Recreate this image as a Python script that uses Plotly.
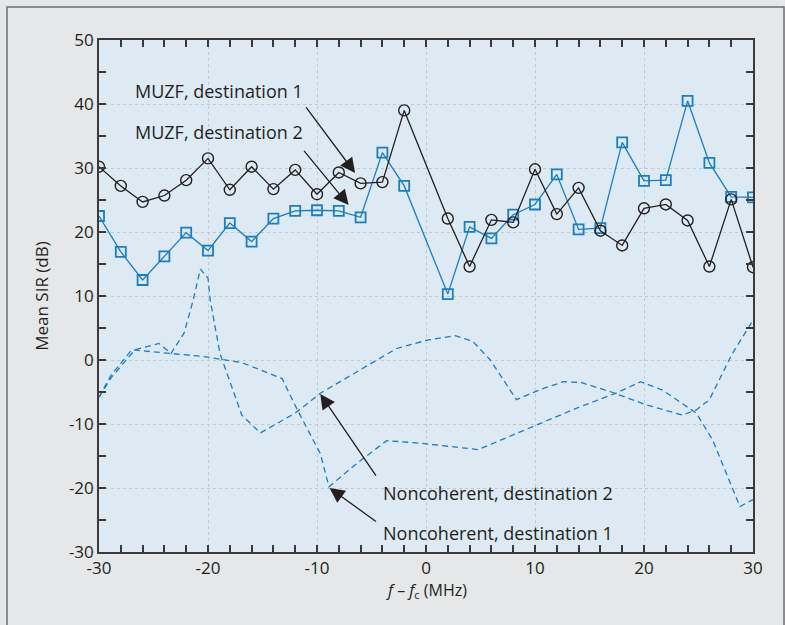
import plotly.graph_objects as go

# MUZF markers (x in MHz offset)
muzf_x = [-30, -28, -26, -24, -22, -20, -18, -16, -14, -12, -10, -8, -6, -4, -2,
          2, 4, 6, 8, 10, 12, 14, 16, 18, 20, 22, 24, 26, 28, 30]
muzf_dest1 = [30.2, 27.2, 24.7, 25.7, 28.1, 31.5, 26.6, 30.2, 26.7, 29.7, 25.9, 29.3, 27.6, 27.8, 39.0,
              22.1, 14.6, 21.9, 21.5, 29.8, 22.8, 26.9, 20.2, 17.9, 23.7, 24.3, 21.8, 14.6, 25.1, 14.5]
muzf_dest2 = [22.5, 16.9, 12.5, 16.2, 19.9, 17.1, 21.4, 18.5, 22.1, 23.3, 23.4, 23.3, 22.3, 32.4, 27.2,
              10.3, 20.8, 19.0, 22.7, 24.3, 29.0, 20.4, 20.6, 34.0, 28.0, 28.1, 40.5, 30.8, 25.5, 25.4]

# Noncoherent curves
nc1_x = [-30, -28.9, -27, -24, -20.2, -18.8, -16.9, -13.2, -11.8, -9.7, -8.9, -6.3, -3.6, -0.5, 4.8,
         9.8, 14, 17.4, 19.7, 21.7, 24.8, 26.3, 28.8, 30]
nc1_y = [-5.8, -2.4, 1.6, 1.1, 0.5, 0.1, -0.4, -2.9, -7.8, -14.6, -19.8, -16.1, -12.6, -13.0, -14.0,
         -10.4, -7.4, -5.2, -3.4, -4.7, -8.3, -12.5, -22.9, -21.8]

nc2_x = [-30, -28.9, -26.7, -24.5, -23.4, -22.2, -21.4, -20.7, -20.0, -19.8, -18.9, -16.9, -15.2, -12.0,
         -9.7, -6.3, -2.7, 0.1, 2.7, 4.3, 5.9, 8.3, 10.5, 12.6, 14.2, 17.0, 20.2, 23.5, 24.8, 26.0, 28.1, 30]
nc2_y = [-5.8, -2.8, 1.6, 2.6, 1.0, 4.2, 9.1, 14.2, 12.8, 9.4, 1.0, -8.6, -11.4, -8.3,
         -5.2, -1.8, 1.8, 3.1, 3.8, 2.9, 0.0, -6.2, -4.6, -3.4, -3.5, -5.0, -7.0, -8.6, -7.8, -6.2, 1.0, 6.2]

x_ticks = [-30, -20, -10, 0, 10, 20, 30]
x_ticklabels = ["-30", "-20", "-10", "0", "10", "20", "30"]
y_ticks = [-30, -20, -10, 0, 10, 20, 30, 40, 50]
y_ticklabels = ["-30", "-20", "-10", "0", "10", "20", "30", "40", "50"]

BLUE = "#1b7dc2"
BLACK = "#231f20"
AXC = "#3a3a3a"
FONT = "Open Sans"

fig = go.Figure()
fig.add_trace(go.Scatter(x=nc1_x, y=nc1_y, mode="lines",
                         line=dict(color=BLUE, width=1.3, dash="6px,4px")))
fig.add_trace(go.Scatter(x=nc2_x, y=nc2_y, mode="lines",
                         line=dict(color=BLUE, width=1.3, dash="6px,4px")))
fig.add_trace(go.Scatter(x=muzf_x, y=muzf_dest2, mode="lines+markers",
                         line=dict(color=BLUE, width=1.3),
                         marker=dict(symbol="square-open", size=10, color=BLUE, line=dict(width=1.8))))
fig.add_trace(go.Scatter(x=muzf_x, y=muzf_dest1, mode="lines+markers",
                         line=dict(color=BLACK, width=1.3),
                         marker=dict(symbol="circle-open", size=11, color=BLACK, line=dict(width=1.4))))

ann_font = dict(family=FONT, size=18, color=BLACK)
annotations = [
    dict(text="MUZF, destination 1", x=-26.9, y=42.1, xanchor="left", yanchor="middle",
         showarrow=False),
    dict(text="MUZF, destination 2", x=-26.9, y=35.7, xanchor="left", yanchor="middle",
         showarrow=False),
    dict(text="Noncoherent, destination 2", x=-4.1, y=-20.8, xanchor="left", yanchor="middle",
         showarrow=False),
    dict(text="Noncoherent, destination 1", x=-4.1, y=-27.0, xanchor="left", yanchor="middle",
         showarrow=False),
]
arrows = [
    ((-11.1, 39.7), (-6.5, 29.2)),
    ((-11.3, 32.9), (-7.1, 24.2)),
    ((-4.5, -18.3), (-9.7, -5.3)),
    ((-4.45, -25.4), (-8.85, -20.0)),
]
for a in annotations:
    a.update(xref="x", yref="y", font=ann_font)
for (tx, ty), (hx, hy) in arrows:
    annotations.append(dict(x=hx, y=hy, ax=tx, ay=ty, xref="x", yref="y", axref="x", ayref="y",
                            text="", showarrow=True, arrowhead=2, arrowsize=2.3, arrowwidth=1.3,
                            arrowcolor=BLACK))
# x-axis title placed as an annotation for exact positioning
annotations.append(dict(text="<i>f</i> – <i>f</i><sub>c</sub> (MHz)", x=0.5, y=-25 / 512,
                        xref="paper", yref="paper", xanchor="center", yanchor="top",
                        showarrow=False, font=dict(family=FONT, size=16, color=BLACK)))

axis_common = dict(showline=True, linecolor=AXC, linewidth=1.6, mirror="ticks",
                   ticks="inside", ticklen=7, tickcolor=AXC, tickwidth=1.6,
                   showgrid=True, gridcolor="#c4c6c8", griddash="dot", gridwidth=1.2,
                   zeroline=False, tickfont=dict(family=FONT, size=17, color=BLACK))

fig.update_xaxes(range=[-30, 30], tickmode="array", tickvals=x_ticks, ticktext=x_ticklabels,
                 minor=dict(tickmode="linear", tick0=-30, dtick=2, ticks="inside", ticklen=7,
                            tickcolor=AXC, tickwidth=1.6, showgrid=False),
                 **axis_common)
fig.update_yaxes(range=[-30, 50], tickmode="array", tickvals=y_ticks, ticktext=y_ticklabels,
                 minor=dict(tickmode="linear", tick0=-30, dtick=5, ticks="inside", ticklen=7,
                            tickcolor=AXC, tickwidth=1.6, showgrid=False),
                 title=dict(text="Mean SIR (dB)", font=dict(family=FONT, size=17, color=BLACK),
                            standoff=16),
                 **axis_common)

fig.update_layout(
    width=785, height=625,
    margin=dict(l=99, r=32, t=40, b=73),
    paper_bgcolor="#e6e7e8", plot_bgcolor="#ddeaf4",
    showlegend=False,
    annotations=annotations,
    shapes=[dict(type="rect", xref="paper", yref="paper",
                 x0=(7 - 99) / 654, x1=(784 - 99) / 654, y0=-0.5, y1=1 + (40 - 7) / 512,
                 line=dict(color="#6d6e70", width=1.5), fillcolor="rgba(0,0,0,0)", layer="below")],
)

fig.write_html("out.html", config={"displayModeBar": False},
               post_script="document.body.style.margin='0';document.body.style.background='#e6e7e8';")
